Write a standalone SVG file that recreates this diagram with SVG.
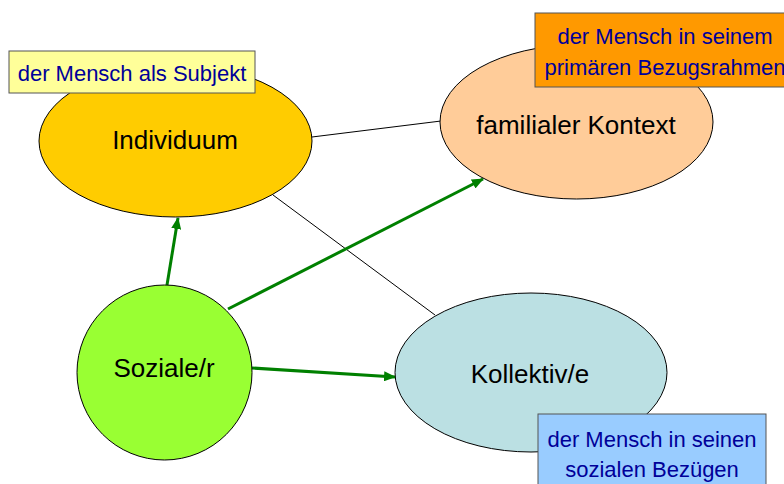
<svg xmlns="http://www.w3.org/2000/svg" width="784" height="484" viewBox="0 0 784 484">
<defs>
<style>
.node{stroke:#000;stroke-width:1}
.ntext{font-family:"Liberation Sans",Arial,sans-serif;font-size:26px;fill:#000;text-anchor:middle}
.note{stroke:#555;stroke-width:1}
.ltext{font-family:"Liberation Sans",Arial,sans-serif;font-size:22px;fill:#000099;text-anchor:middle}
.thin{stroke:#000;stroke-width:1;fill:none}
.green{stroke:#008000;stroke-width:3;fill:none;marker-end:url(#ah)}
</style>
<marker id="ah" markerUnits="userSpaceOnUse" markerWidth="12" markerHeight="10" refX="11" refY="5" orient="auto">
<path d="M0,0 L12,5 L0,10 Z" fill="#008000"/>
</marker>
</defs>
<rect width="784" height="484" fill="#fff"/>
<g id="connectors">
<line class="thin" x1="312" y1="137" x2="441" y2="121"/>
<line class="thin" x1="273" y1="195" x2="435" y2="315"/>
<line class="green" x1="167" y1="285" x2="178" y2="218"/>
<line class="green" x1="228" y1="309" x2="483" y2="179"/>
<line class="green" x1="252" y1="368" x2="395" y2="377"/>
</g>
<g id="individuum">
<ellipse class="node" cx="175.5" cy="141" rx="136.5" ry="76" fill="#FFCC00"/>
<text class="ntext" x="175" y="149">Individuum</text>
</g>
<g id="familialer-kontext">
<ellipse class="node" cx="576.5" cy="122" rx="136.5" ry="77" fill="#FFCC99"/>
<text class="ntext" x="576" y="134">familialer Kontext</text>
</g>
<g id="soziale">
<ellipse class="node" cx="164.5" cy="372.5" rx="87.5" ry="87.5" fill="#99FF33"/>
<text class="ntext" x="164" y="377">Soziale/r</text>
</g>
<g id="kollektiv">
<ellipse class="node" cx="531" cy="372.5" rx="136" ry="79.5" fill="#BBE0E3"/>
<text class="ntext" x="530" y="383">Kollektiv/e</text>
</g>
<g id="note-subjekt">
<rect class="note" x="9" y="51" width="246" height="42" fill="#FFFF99"/>
<text class="ltext" x="132" y="81">der Mensch als Subjekt</text>
</g>
<g id="note-bezugsrahmen">
<rect class="note" x="535" y="13" width="262" height="74" fill="#FF9900"/>
<text class="ltext" x="665" y="44">der Mensch in seinem</text>
<text class="ltext" x="665" y="75">primären Bezugsrahmen</text>
</g>
<g id="note-bezuege">
<rect class="note" x="538" y="414" width="228" height="80" fill="#99CCFF"/>
<text class="ltext" x="652" y="447">der Mensch in seinen</text>
<text class="ltext" x="652" y="477">sozialen Bezügen</text>
</g>
</svg>
